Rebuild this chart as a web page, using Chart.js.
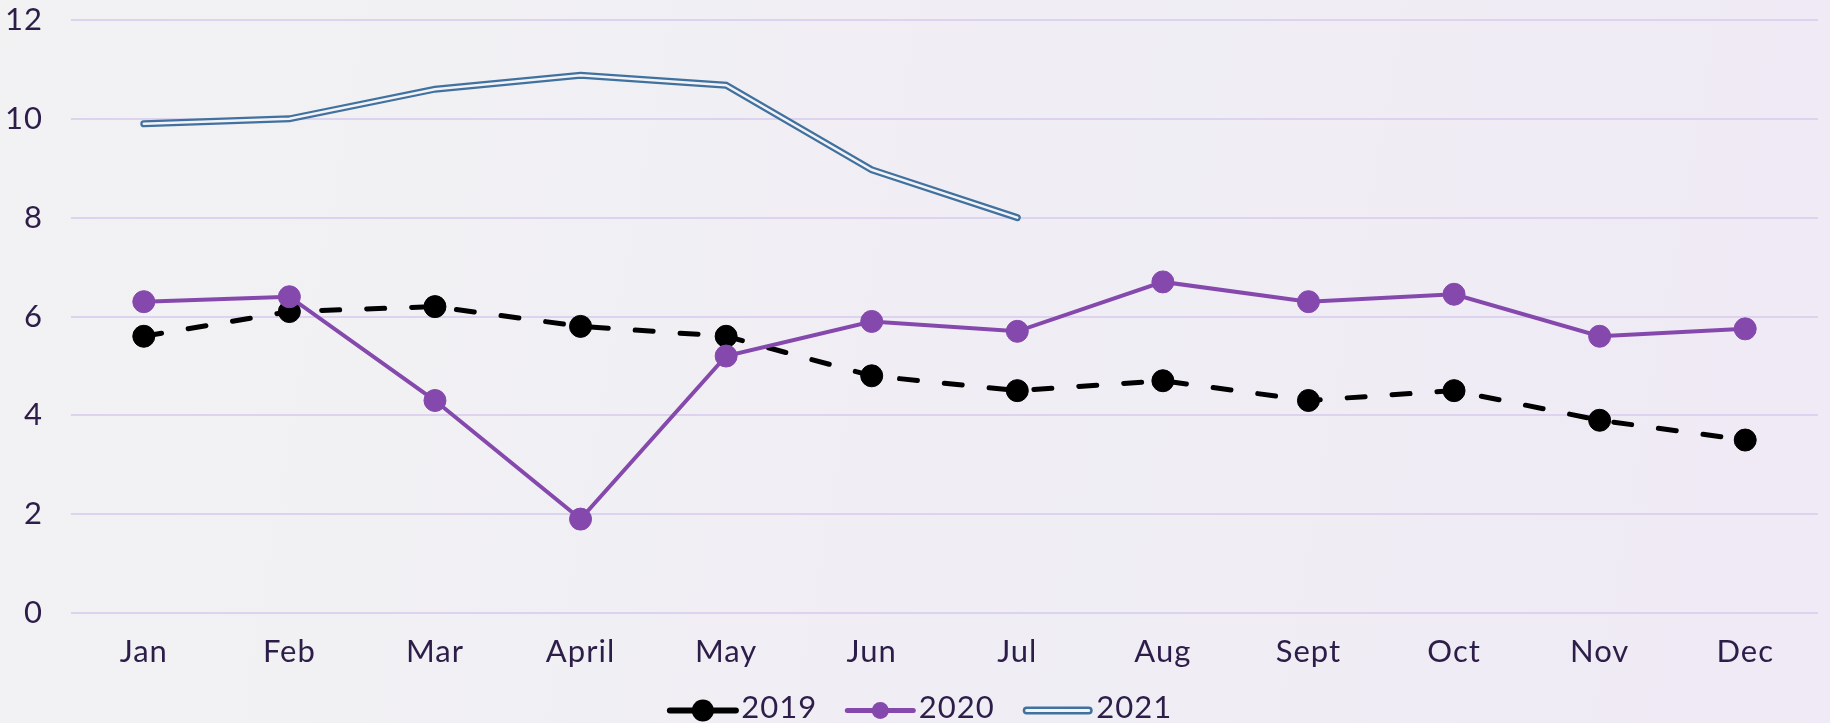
<!DOCTYPE html>
<html>
<head>
<meta charset="utf-8">
<script src="https://cdn.jsdelivr.net/npm/chart.js@4.4.1/dist/chart.umd.min.js"></script>
<style>
  html, body { margin: 0; padding: 0; }
  body { width: 1830px; height: 723px; background: linear-gradient(100deg, #f2f2f3 0%, #f0eef4 50%, #efeaf5 100%); overflow: hidden; }
  #wrap { position: relative; width: 1830px; height: 723px; }
</style>
</head>
<body>
<div id="wrap"><canvas id="c" width="1830" height="723"></canvas></div>
<script>
const categories = ["Jan", "Feb", "Mar", "April", "May", "Jun", "Jul", "Aug", "Sept", "Oct", "Nov", "Dec"];
const series2019 = [5.6, 6.1, 6.2, 5.8, 5.6, 4.8, 4.5, 4.7, 4.3, 4.5, 3.9, 3.5];
const series2020 = [6.3, 6.4, 4.3, 1.9, 5.2, 5.9, 5.7, 6.7, 6.3, 6.45, 5.6, 5.75];
const series2021 = [9.9, 10.0, 10.6, 10.88, 10.68, 8.97, 8.0, null, null, null, null, null];
const yTicks = [0, 2, 4, 6, 8, 10, 12];

const TEXT = '#2c1d49';
const FONT = 'Lato, "Noto Sans", sans-serif';
const FSIZE = 31;
const C2019 = '#000000';
const C2020 = '#8549ad';
const C2021 = '#41729f';
const INNER = '#f3f2f6';

const LEG_PAD = 14;
const SYM_OFF = 30 - LEG_PAD;
const SYM_W = 66;

const spacing = {
  beforeUpdate(chart) { chart.ctx.letterSpacing = '1px'; },
  beforeDraw(chart) { chart.ctx.letterSpacing = '1px'; },
  beforeLayout(chart) {
    const lg = chart.legend;
    if (lg && !lg._patched) {
      const orig = lg.fit;
      lg.fit = function () { orig.call(this); this.height = 45; };
      lg._patched = true;
    }
  }
};

const legendSymbols = {
  afterDraw(chart) {
    const lg = chart.legend;
    if (!lg || !lg.legendHitBoxes) return;
    const ctx = chart.ctx;
    lg.legendHitBoxes.forEach((hb, i) => {
      const x0 = hb.left + SYM_OFF, x1 = x0 + SYM_W;
      const y = hb.top + hb.height / 2 + 3;
      ctx.save();
      ctx.lineCap = 'round';
      if (i === 0) {
        ctx.strokeStyle = C2019; ctx.lineWidth = 6;
        ctx.beginPath(); ctx.moveTo(x0, y); ctx.lineTo(x1, y); ctx.stroke();
        ctx.fillStyle = C2019; ctx.beginPath(); ctx.arc((x0 + x1) / 2, y, 11, 0, Math.PI * 2); ctx.fill();
      } else if (i === 1) {
        ctx.strokeStyle = C2020; ctx.lineWidth = 5;
        ctx.beginPath(); ctx.moveTo(x0, y); ctx.lineTo(x1, y); ctx.stroke();
        ctx.fillStyle = C2020; ctx.beginPath(); ctx.arc((x0 + x1) / 2, y, 8.5, 0, Math.PI * 2); ctx.fill();
      } else {
        ctx.strokeStyle = C2021; ctx.lineWidth = 8;
        ctx.beginPath(); ctx.moveTo(x0 + 2, y); ctx.lineTo(x1 - 2, y); ctx.stroke();
        ctx.strokeStyle = INNER; ctx.lineWidth = 3;
        ctx.beginPath(); ctx.moveTo(x0 + 2, y); ctx.lineTo(x1 - 2, y); ctx.stroke();
      }
      ctx.restore();
    });
  }
};

new Chart(document.getElementById('c'), {
  type: 'line',
  data: {
    labels: categories,
    datasets: [
      { label: '2019', data: series2019, borderColor: C2019, backgroundColor: C2019, borderWidth: 5,
        borderDash: [18, 27], borderCapStyle: 'round', pointRadius: 11, pointBorderWidth: 1,
        pointBackgroundColor: C2019, pointBorderColor: C2019, order: 2, tension: 0 },
      { label: '2020', data: series2020, borderColor: C2020, backgroundColor: C2020, borderWidth: 4,
        pointRadius: 11, pointBorderWidth: 1, pointBackgroundColor: C2020, pointBorderColor: C2020, order: 1, tension: 0 },
      { label: '2021', data: series2021, borderColor: C2021, backgroundColor: C2021, borderWidth: 7,
        borderCapStyle: 'round', pointRadius: 0, order: 4, tension: 0, spanGaps: false },
      { label: '2021-inner', data: series2021, borderColor: INNER, backgroundColor: INNER, borderWidth: 2.5,
        borderCapStyle: 'round', pointRadius: 0, order: 3, tension: 0, spanGaps: false }
    ]
  },
  options: {
    responsive: false,
    animation: false,
    devicePixelRatio: 1,
    layout: { padding: { left: 0, right: 4, top: 0, bottom: 0 } },
    plugins: {
      tooltip: { enabled: false },
      legend: {
        position: 'bottom',
        labels: {
          color: TEXT,
          font: { family: FONT, size: FSIZE },
          boxWidth: SYM_OFF + 56,
          boxHeight: 20,
          padding: LEG_PAD,
          filter: (item) => item.text !== '2021-inner',
          generateLabels: (chart) => chart.data.datasets.map((ds, i) => ({
            text: ds.label, fillStyle: 'rgba(0,0,0,0)', strokeStyle: 'rgba(0,0,0,0)', lineWidth: 0,
            hidden: false, datasetIndex: i, fontColor: TEXT
          }))
        }
      }
    },
    scales: {
      x: {
        offset: true,
        afterFit: (s) => { s.height = 65; s.paddingLeft = 0; s.paddingRight = 0; },
        grid: { display: false, drawTicks: false },
        border: { display: false },
        ticks: { color: TEXT, font: { family: FONT, size: FSIZE }, padding: 20, maxRotation: 0, autoSkip: false }
      },
      y: {
        min: 0, max: 12,
        afterFit: (s) => { s.width = 71; s.paddingTop = 20; s.paddingBottom = 0; },
        afterBuildTicks: (s) => { s.ticks = yTicks.map(v => ({ value: v })); },
        grid: { color: '#ddd3ee', lineWidth: 2, drawTicks: false },
        border: { display: false },
        ticks: { color: TEXT, font: { family: FONT, size: FSIZE }, padding: 28 }
      }
    }
  },
  plugins: [spacing, legendSymbols]
});
</script>
</body>
</html>
